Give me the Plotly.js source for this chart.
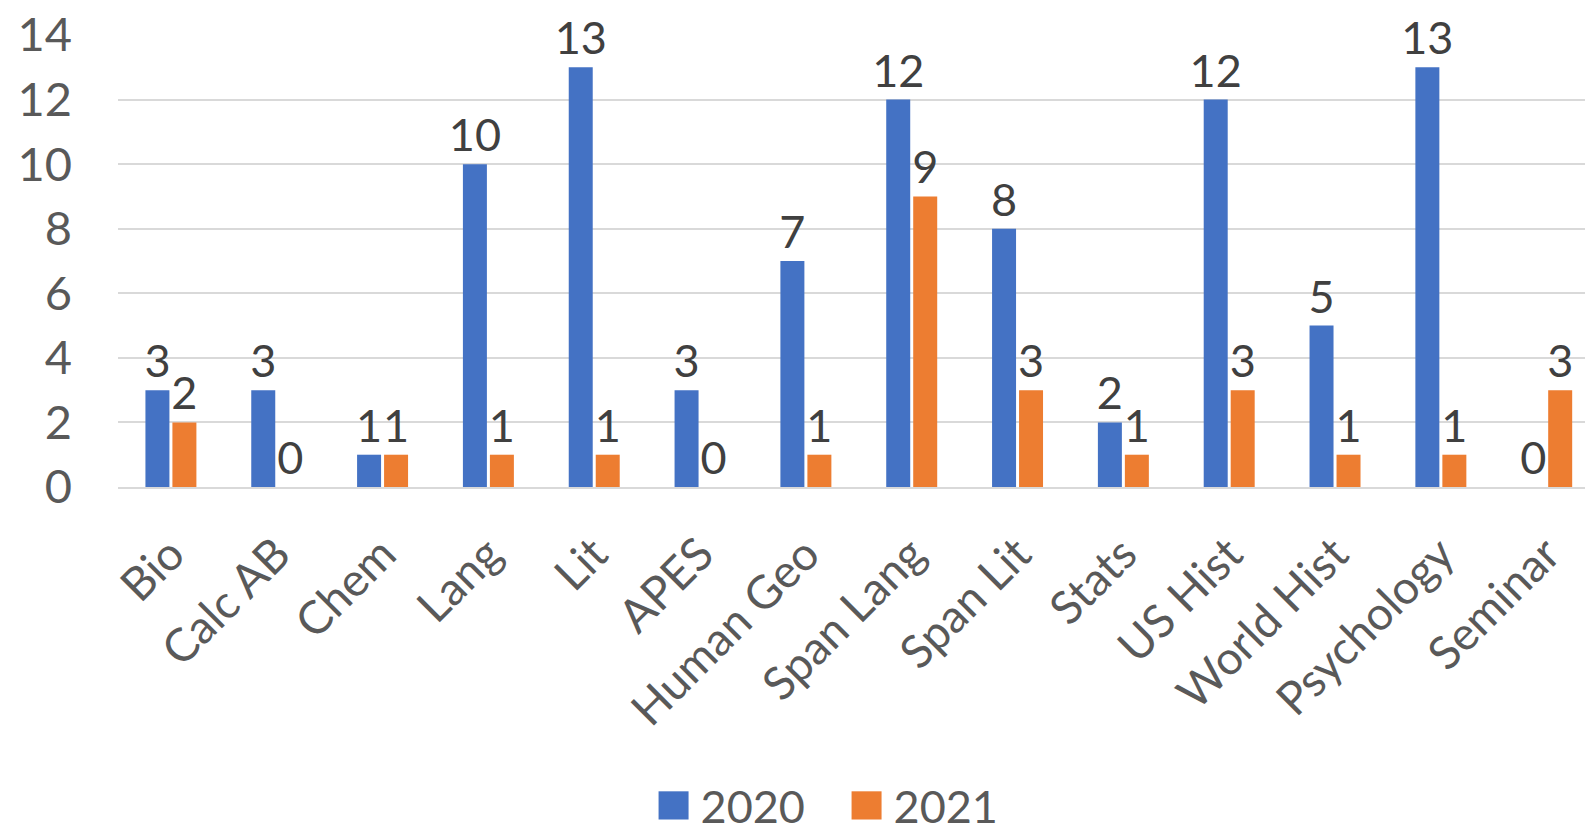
<!DOCTYPE html>
<html>
<head>
<meta charset="utf-8">
<script src="https://cdn.plot.ly/plotly-3.0.1.min.js"></script>
<style>html,body{margin:0;padding:0;background:#fff;}#chart{width:1585px;height:827px;}</style>
</head>
<body>
<div id="chart"></div>
<script>
const categories = ["Bio","Calc AB","Chem","Lang","Lit","APES","Human Geo","Span Lang","Span Lit","Stats","US Hist","World Hist","Psychology","Seminar"];
const values2020 = [3,3,1,10,13,3,7,12,8,2,12,5,13,0];
const values2021 = [2,0,1,1,1,0,1,9,3,1,3,1,1,3];
const yTicks = [0,2,4,6,8,10,12,14];

const fontFam = "Lato, Open Sans, sans-serif";
const mk = (name, vals, color) => ({
  type: "bar", name: name, x: categories, y: vals,
  marker: {color: color, line: {width: 0}},
  text: vals.map(String), textposition: "outside", cliponaxis: false, constraintext: "none",
  textfont: {family: fontFam, size: 45, color: "#404040"},
  hoverinfo: "x+y"
});
const data = [mk("2020", values2020, "#4472C4"), mk("2021", values2021, "#ED7D31")];
const layout = {
  width: 1585, height: 827,
  margin: {l: 118, r: 0, t: 35, b: 340, autoexpand: false},
  paper_bgcolor: "#fff", plot_bgcolor: "#fff",
  barmode: "group", bargap: 0.49, bargroupgap: 0.111,
  font: {family: fontFam, color: "#595959"},
  xaxis: {range: [-0.5, 13.362], tickangle: -45, tickfont: {size: 46, color: "#595959"}, showline: true, linecolor: "#D9D9D9", linewidth: 1.5, ticks: "", showgrid: false, automargin: false, ticklabelstandoff: 20},
  yaxis: {range: [0, 14], tickvals: yTicks, ticktext: yTicks.map(String), tickfont: {size: 47, color: "#595959"}, gridcolor: "#D9D9D9", gridwidth: 1.5, zeroline: false, showline: false, ticks: "", ticklabelstandoff: 45, automargin: false},
  showlegend: true,
  legend: {orientation: "h", x: 0.3603, xanchor: "left", y: -0.705, yanchor: "middle", font: {size: 45, color: "#595959"}, itemwidth: 44, traceorder: "normal", entrywidth: 134, entrywidthmode: "pixels", maxheight: 300}
};
Plotly.newPlot("chart", data, layout, {displayModeBar: false}).then(function () {
  document.querySelectorAll("#chart .legend .legendpoints path").forEach(function (p) {
    p.setAttribute("transform", "translate(27,0) scale(2.5,2.35)");
    p.style.strokeWidth = "0";
  });
  document.querySelectorAll("#chart .legend [clip-path]").forEach(function (el) {
    el.removeAttribute("clip-path");
  });
});
</script>
</body>
</html>
